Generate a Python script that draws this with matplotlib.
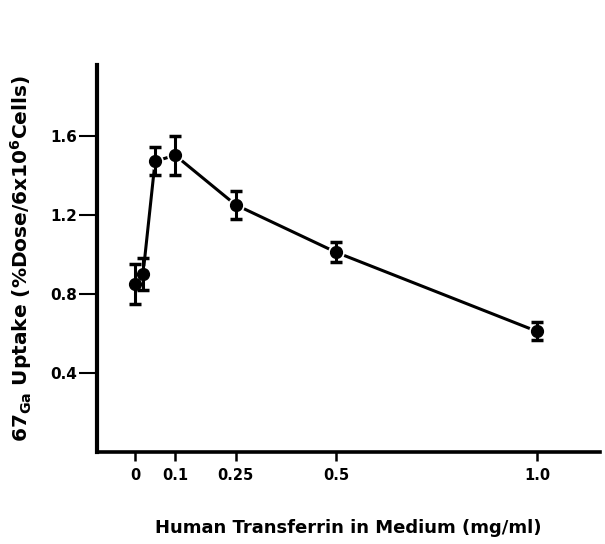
import matplotlib
matplotlib.use("Agg")
import matplotlib.pyplot as plt

# transferrin concentration (mg/ml) vs 67Ga uptake
conc = [0.0, 0.02, 0.05, 0.1, 0.25, 0.5, 1.0]
uptake = [0.85, 0.90, 1.47, 1.50, 1.25, 1.01, 0.61]
err = [0.10, 0.08, 0.07, 0.10, 0.07, 0.05, 0.045]

xticks = [0, 0.1, 0.25, 0.5, 1.0]
xtick_labels = ["0", "0.1", "0.25", "0.5", "1.0"]
yticks = [0.4, 0.8, 1.2, 1.6]
ytick_labels = ["0.4", "0.8", "1.2", "1.6"]

plt.rcParams["font.family"] = ["DejaVu Sans"]
plt.rcParams["font.weight"] = "bold"

fig = plt.figure(figsize=(6.05, 5.44), dpi=100)
ax = fig.add_axes([0.160, 0.169, 0.832, 0.711])

ax.plot(conc, uptake, color="black", lw=2.2, zorder=1)
ax.plot(conc, uptake, "o", color="black", ms=8.5, mec="white", mew=3.5, zorder=2)
ax.errorbar(conc, uptake, yerr=err, fmt="none", ecolor="black", elinewidth=2.2,
            capsize=4.5, capthick=2.5, zorder=3)
ax.plot(conc, uptake, "o", color="black", ms=8.5, zorder=4)

ax.set_xlim(-0.095, 1.157)
ax.set_ylim(0, 1.955)

for s in ["top", "right"]:
    ax.spines[s].set_visible(False)
ax.spines["left"].set_linewidth(3)
ax.spines["bottom"].set_linewidth(2.6)

ax.set_xticks(xticks)
ax.set_xticklabels(xtick_labels, fontsize=10.5, fontweight="bold")
ax.set_yticks(yticks)
ax.set_yticklabels(ytick_labels, fontsize=11, fontweight="bold")
ax.tick_params(axis="y", direction="out", length=13, width=1.5, pad=1)
ax.tick_params(axis="x", direction="out", length=6.5, width=1.8, pad=5)

ax.set_xlabel("Human Transferrin in Medium (mg/ml)", fontsize=13, fontweight="bold",
              labelpad=26)
ax.set_ylabel(r"67$_{\bf Ga}$ Uptake (%Dose/6x10$^{\bf 6}$Cells)", fontsize=14.5,
              fontweight="bold", labelpad=12)

fig.savefig("out.png", dpi=100)
